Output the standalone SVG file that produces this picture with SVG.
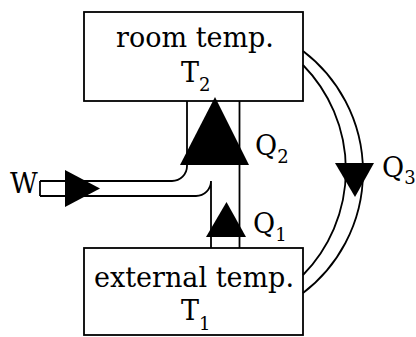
<svg xmlns="http://www.w3.org/2000/svg" width="416" height="337" viewBox="0 0 416 337">
  <style>
    .box { fill: #ffffff; stroke: #000000; stroke-width: 1.8; }
    .wall { fill: none; stroke: #000000; stroke-width: 1.8; }
    .head { fill: #000000; stroke: none; }
    .lbl { font-family: "DejaVu Serif", "Liberation Serif", serif; font-size: 27px; fill: #000000; }
    .sub { font-size: 18px; }
  </style>
  <rect x="0" y="0" width="416" height="337" fill="#ffffff"/>

  <g id="node-room">
    <rect class="box" x="84" y="12" width="219" height="89"/>
    <text class="lbl" x="195" y="47" text-anchor="middle">room temp.</text>
    <text class="lbl" x="181" y="82">T<tspan class="sub" dy="9">2</tspan></text>
  </g>

  <g id="node-external">
    <rect class="box" x="84" y="248" width="219" height="87"/>
    <text class="lbl" x="194" y="287" text-anchor="middle">external temp.</text>
    <text class="lbl" x="181" y="320">T<tspan class="sub" dy="10">1</tspan></text>
  </g>

  <g id="connectors">
    <!-- work pipe W -->
    <path class="wall" d="M40,181 H172 A15,15 0 0 0 187,166 V101"/>
    <path class="wall" d="M40,196 H196 A15,15 0 0 0 211,181 V248"/>
    <path class="wall" d="M40,181 V196"/>
    <path class="wall" d="M239.5,101 V248"/>
    <!-- Q3 channel -->
    <path class="wall" d="M303,51 A152,152 0 0 1 303,293"/>
    <path class="wall" d="M303,65 A150,150 0 0 1 303,275"/>
    <!-- arrowheads -->
    <polygon class="head" points="65,170 100,188.5 65,207"/>
    <polygon class="head" points="215,97 249,165 180,165"/>
    <polygon class="head" points="226.5,202 246,237 206,237"/>
    <polygon class="head" points="335,163 374,163 355,197"/>
  </g>

  <g id="labels">
    <text class="lbl" x="10" y="193">W</text>
    <text class="lbl" x="255" y="155">Q<tspan class="sub" dy="8">2</tspan></text>
    <text class="lbl" x="253" y="233">Q<tspan class="sub" dy="8">1</tspan></text>
    <text class="lbl" x="382" y="177">Q<tspan class="sub" dy="7">3</tspan></text>
  </g>
</svg>
